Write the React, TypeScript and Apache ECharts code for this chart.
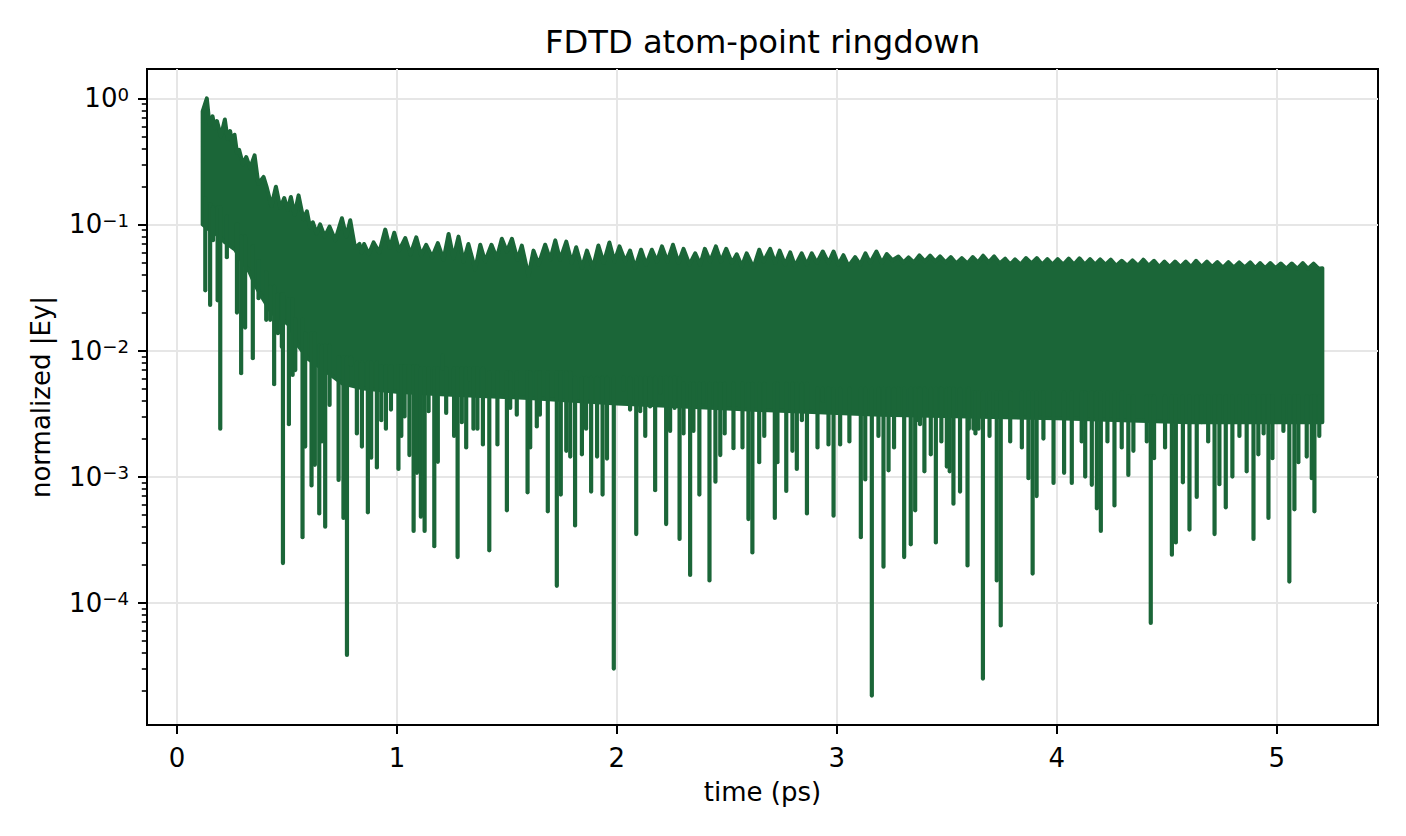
import React, { useEffect, useRef } from "react";
import * as echarts from "echarts";

const TITLE = "FDTD atom-point ringdown";
const X_LABEL = "time (ps)";
const Y_LABEL = "normalized |Ey|";
const X_TICKS = [0, 1, 2, 3, 4, 5];
const Y_TICKS = [1e-4, 1e-3, 1e-2, 1e-1, 1];
const X_RANGE = [-0.136, 5.46];
const Y_RANGE = [1.07e-5, 1.71];
const GREEN = "#1b6638";
const FONT = "DejaVu Sans";

// upper edge of the oscillation (peaks and the notches between them)
const envelopeTop: [number, number][] = [
  [0.117, 0.79], [0.136, 1.0], [0.148, 0.62], [0.162, 0.72], [0.172, 0.58], [0.182, 0.66],
  [0.2, 0.5], [0.218, 0.68], [0.23, 0.48], [0.242, 0.55], [0.252, 0.44], [0.262, 0.515],
  [0.273, 0.37], [0.283, 0.39], [0.3, 0.3], [0.315, 0.343], [0.333, 0.28], [0.353, 0.353],
  [0.37, 0.21], [0.394, 0.238], [0.409, 0.195], [0.43, 0.14], [0.45, 0.199], [0.47, 0.135],
  [0.488, 0.162], [0.503, 0.13], [0.518, 0.165], [0.535, 0.12], [0.553, 0.17], [0.575, 0.11],
  [0.591, 0.127], [0.605, 0.095], [0.618, 0.104], [0.635, 0.085], [0.651, 0.1], [0.672, 0.08],
  [0.694, 0.096], [0.72, 0.075], [0.75, 0.112], [0.77, 0.08], [0.788, 0.108], [0.81, 0.065],
  [0.83, 0.07], [0.84, 0.06], [0.851, 0.07], [0.872, 0.058], [0.894, 0.072], [0.92, 0.06],
  [0.947, 0.091], [0.968, 0.065], [0.988, 0.086], [1.01, 0.062], [1.038, 0.078], [1.062, 0.058],
  [1.088, 0.079], [1.11, 0.057], [1.133, 0.069], [1.16, 0.055], [1.186, 0.071], [1.212, 0.0525],
  [1.235, 0.084], [1.257, 0.054], [1.28, 0.08], [1.303, 0.0508], [1.325, 0.07], [1.356, 0.044],
  [1.379, 0.069], [1.401, 0.0508], [1.43, 0.069], [1.454, 0.054], [1.477, 0.077], [1.5, 0.061],
  [1.523, 0.077], [1.548, 0.0525], [1.568, 0.068], [1.598, 0.039], [1.621, 0.062], [1.644, 0.048],
  [1.674, 0.069], [1.697, 0.0525], [1.72, 0.0747], [1.742, 0.0525], [1.77, 0.073], [1.795, 0.0495],
  [1.815, 0.066], [1.841, 0.0452], [1.864, 0.062], [1.891, 0.0452], [1.916, 0.068], [1.94, 0.0495],
  [1.966, 0.072], [1.989, 0.0508], [2.012, 0.067], [2.038, 0.0508], [2.06, 0.062], [2.083, 0.0452],
  [2.11, 0.063], [2.133, 0.048], [2.159, 0.063], [2.182, 0.0508], [2.205, 0.067], [2.23, 0.0508],
  [2.255, 0.069], [2.28, 0.0495], [2.303, 0.064], [2.33, 0.048], [2.356, 0.059], [2.379, 0.048],
  [2.4, 0.064], [2.424, 0.0508], [2.45, 0.067], [2.473, 0.0508], [2.497, 0.064], [2.523, 0.0495],
  [2.545, 0.058], [2.568, 0.0466], [2.59, 0.059], [2.621, 0.0452], [2.647, 0.063], [2.667, 0.0508],
  [2.697, 0.064], [2.72, 0.0495], [2.74, 0.062], [2.765, 0.048], [2.788, 0.06], [2.81, 0.0466],
  [2.84, 0.059], [2.863, 0.048], [2.886, 0.059], [2.909, 0.0495], [2.936, 0.061], [2.962, 0.0495],
  [2.985, 0.061], [3.007, 0.048], [3.03, 0.057], [3.053, 0.0466], [3.083, 0.055], [3.106, 0.048],
  [3.13, 0.059], [3.151, 0.0495], [3.18, 0.061], [3.204, 0.0495], [3.227, 0.0582], [3.253, 0.052],
  [3.28, 0.0557], [3.303, 0.05], [3.326, 0.0547], [3.35, 0.05], [3.375, 0.0568], [3.4, 0.051],
  [3.424, 0.0565], [3.447, 0.051], [3.469, 0.0557], [3.494, 0.05], [3.518, 0.0551], [3.543, 0.049],
  [3.568, 0.0541], [3.593, 0.049], [3.618, 0.0551], [3.641, 0.05], [3.665, 0.0565], [3.69, 0.05],
  [3.715, 0.0557], [3.74, 0.049], [3.765, 0.0535], [3.788, 0.048], [3.81, 0.0528], [3.835, 0.048],
  [3.86, 0.0541], [3.885, 0.049], [3.909, 0.0541], [3.933, 0.048], [3.957, 0.0531], [3.98, 0.048],
  [4.004, 0.0531], [4.029, 0.048], [4.054, 0.0535], [4.078, 0.048], [4.103, 0.0538], [4.127, 0.048],
  [4.151, 0.0531], [4.174, 0.048], [4.197, 0.0528], [4.221, 0.048], [4.245, 0.0525], [4.27, 0.047],
  [4.295, 0.0515], [4.32, 0.047], [4.344, 0.0518], [4.369, 0.047], [4.393, 0.0525], [4.418, 0.047],
  [4.442, 0.0515], [4.466, 0.046], [4.489, 0.0508], [4.513, 0.046], [4.537, 0.0508], [4.562, 0.046],
  [4.586, 0.0508], [4.61, 0.046], [4.633, 0.0515], [4.658, 0.046], [4.682, 0.0508], [4.706, 0.046],
  [4.73, 0.0503], [4.755, 0.0455], [4.78, 0.0503], [4.805, 0.0455], [4.829, 0.05], [4.854, 0.0455],
  [4.879, 0.05], [4.902, 0.045], [4.924, 0.0494], [4.947, 0.045], [4.97, 0.0494], [4.994, 0.045],
  [5.018, 0.049], [5.043, 0.0445], [5.068, 0.049], [5.093, 0.0445], [5.118, 0.0494], [5.142, 0.0445],
  [5.167, 0.0488], [5.19, 0.0445], [5.207, 0.045],
];

// lower edge of the solidly filled part of the trace
const envelopeBottom: [number, number][] = [
  [0.117, 0.1], [0.15, 0.09], [0.175, 0.085], [0.22, 0.072], [0.265, 0.063], [0.3, 0.05],
  [0.33, 0.042], [0.36, 0.032], [0.39, 0.026], [0.43, 0.02], [0.48, 0.0175], [0.51, 0.016],
  [0.55, 0.011], [0.6, 0.0085], [0.68, 0.0068], [0.75, 0.0055], [0.85, 0.005], [1.0, 0.0047],
  [1.2, 0.0045], [1.6, 0.0042], [2.0, 0.0038], [2.6, 0.0034], [3.2, 0.0031], [4.0, 0.0029],
  [4.6, 0.0027], [5.207, 0.0027],
];

// downward spikes (time, minimum value)
const dips: [number, number][] = [
  [0.129, 0.03], [0.151, 0.023], [0.164, 0.075], [0.185, 0.025], [0.197, 0.0024], [0.227, 0.055],
  [0.273, 0.02], [0.292, 0.0066], [0.31, 0.0152], [0.345, 0.0087], [0.371, 0.026], [0.406, 0.0175],
  [0.424, 0.0175], [0.442, 0.0054], [0.459, 0.0137], [0.477, 0.0107], [0.482, 0.000206], [0.509, 0.0026],
  [0.526, 0.0064], [0.538, 0.007], [0.571, 0.00033], [0.583, 0.00173], [0.612, 0.00085], [0.627, 0.00124],
  [0.647, 0.00051], [0.659, 0.0019], [0.674, 0.0004], [0.694, 0.0037], [0.735, 0.00094], [0.757, 0.00047],
  [0.773, 0.0000385], [0.791, 0.0077], [0.818, 0.0022], [0.841, 0.00173], [0.868, 0.00052], [0.883, 0.00141],
  [0.909, 0.00118], [0.929, 0.0028], [0.95, 0.0024], [0.973, 0.0034], [1.007, 0.00115], [1.02, 0.0021],
  [1.035, 0.003], [1.057, 0.00148], [1.076, 0.00037], [1.091, 0.00107], [1.109, 0.00048], [1.126, 0.00037],
  [1.144, 0.0033], [1.17, 0.00028], [1.186, 0.00131], [1.209, 0.0092], [1.224, 0.0032], [1.26, 0.0021],
  [1.276, 0.00023], [1.295, 0.0027], [1.315, 0.0017], [1.33, 0.0059], [1.348, 0.0024], [1.366, 0.0024],
  [1.391, 0.0018], [1.42, 0.00026], [1.457, 0.0018], [1.5, 0.00054], [1.515, 0.0035], [1.545, 0.0031],
  [1.594, 0.00075], [1.606, 0.0017], [1.636, 0.0025], [1.65, 0.0031], [1.686, 0.00053], [1.727, 0.000136],
  [1.745, 0.00072], [1.77, 0.0016], [1.788, 0.00144], [1.81, 0.00041], [1.841, 0.0015], [1.86, 0.0024],
  [1.883, 0.00076], [1.91, 0.00144], [1.935, 0.00072], [1.955, 0.00139], [1.986, 0.00003], [2.03, 0.0049],
  [2.06, 0.0034], [2.088, 0.00035], [2.106, 0.0033], [2.129, 0.0021], [2.151, 0.0036], [2.174, 0.00078],
  [2.197, 0.0046], [2.224, 0.00042], [2.242, 0.0023], [2.262, 0.0035], [2.285, 0.00032], [2.303, 0.0022],
  [2.333, 0.000166], [2.348, 0.0023], [2.375, 0.00072], [2.394, 0.0039], [2.421, 0.00015], [2.448, 0.00091],
  [2.47, 0.00148], [2.49, 0.0022], [2.53, 0.00168], [2.571, 0.0017], [2.598, 0.00046], [2.616, 0.00025],
  [2.647, 0.0013], [2.67, 0.0021], [2.718, 0.00047], [2.73, 0.0013], [2.77, 0.00077], [2.798, 0.0016],
  [2.818, 0.00115], [2.841, 0.0028], [2.864, 0.00051], [2.912, 0.0017], [2.936, 0.004], [2.962, 0.0018],
  [2.985, 0.00049], [3.015, 0.0018], [3.057, 0.0019], [3.109, 0.00033], [3.129, 0.00095], [3.159, 0.0000183],
  [3.189, 0.0021], [3.212, 0.000193], [3.235, 0.00112], [3.26, 0.0017], [3.28, 0.0034], [3.306, 0.00023],
  [3.336, 0.00029], [3.356, 0.00054], [3.37, 0.0028], [3.378, 0.0026], [3.398, 0.0011], [3.427, 0.0015],
  [3.45, 0.0003], [3.47, 0.0035], [3.475, 0.0019], [3.5, 0.0012], [3.513, 0.0011], [3.53, 0.00061],
  [3.56, 0.00076], [3.594, 0.000197], [3.6, 0.0024], [3.621, 0.0024], [3.63, 0.0022], [3.644, 0.0024],
  [3.664, 0.000025], [3.694, 0.0021], [3.727, 0.00015], [3.745, 0.000066], [3.788, 0.0019], [3.841, 0.0017],
  [3.871, 0.00097], [3.89, 0.00017], [3.908, 0.0007], [3.939, 0.002], [3.985, 0.00089], [4.033, 0.00107],
  [4.068, 0.00089], [4.113, 0.0019], [4.129, 0.001], [4.159, 0.00086], [4.182, 0.00056], [4.2, 0.00037],
  [4.23, 0.0019], [4.262, 0.00059], [4.295, 0.0017], [4.325, 0.00103], [4.348, 0.0016], [4.409, 0.0019],
  [4.427, 0.000069], [4.442, 0.0014], [4.492, 0.0017], [4.523, 0.00024], [4.541, 0.0003], [4.573, 0.0009],
  [4.603, 0.00038], [4.636, 0.00069], [4.659, 0.0027], [4.688, 0.0019], [4.717, 0.00035], [4.739, 0.00087],
  [4.768, 0.00057], [4.798, 0.001], [4.83, 0.0021], [4.863, 0.0011], [4.894, 0.00032], [4.916, 0.0015],
  [4.94, 0.0022], [4.962, 0.00047], [4.98, 0.0014], [5.03, 0.0023], [5.057, 0.000147], [5.08, 0.00055],
  [5.098, 0.0013], [5.136, 0.00144], [5.159, 0.00097], [5.171, 0.00053], [5.193, 0.0021],
];

const Y_MINOR: number[] = [];
for (let e = -5; e <= 0; e++) {
  for (let m = 2; m <= 9; m++) {
    const v = m * Math.pow(10, e);
    if (v >= Y_RANGE[0] && v <= Y_RANGE[1]) Y_MINOR.push(v);
  }
}

const powLabel = (v: number) => {
  const e = Math.round(Math.log10(v));
  const s = e < 0 ? "\u2212" + String(-e) : String(e);
  return "{b|10}{e|" + s + "}";
};

const nearestBottom = (t: number) => {
  let best = envelopeBottom[0];
  for (const p of envelopeBottom) if (Math.abs(p[0] - t) < Math.abs(best[0] - t)) best = p;
  return best[1];
};

export default function App() {
  const ref = useRef<HTMLDivElement>(null);
  useEffect(() => {
    if (!ref.current) return;
    const chart = echarts.init(ref.current, null, { renderer: "svg", width: 1406, height: 836 });
    const tickStyle = { color: "#000", width: 2 };
    chart.setOption({
      animation: false,
      backgroundColor: "#fff",
      textStyle: { fontFamily: FONT },
      title: {
        text: TITLE,
        left: 762.5,
        textAlign: "center",
        top: 26,
        padding: 0,
        textStyle: { fontFamily: FONT, fontSize: 32.2, fontWeight: "normal", color: "#000" },
      },
      grid: {
        left: 147, top: 69, right: 28, bottom: 111,
        show: true, borderColor: "#000", borderWidth: 2, backgroundColor: "transparent",
        containLabel: false, outerBoundsMode: "none",
      },
      xAxis: {
        type: "value",
        min: X_RANGE[0],
        max: X_RANGE[1],
        name: X_LABEL,
        nameLocation: "middle",
        nameGap: 54,
        nameMoveOverlap: false,
        nameTextStyle: { fontFamily: FONT, fontSize: 26, color: "#000" },
        axisLine: { show: true, onZero: false, lineStyle: { color: "#000", width: 2 } },
        axisTick: { show: true, length: 9, lineStyle: tickStyle, customValues: X_TICKS },
        axisLabel: {
          show: true, margin: 20, fontFamily: FONT, fontSize: 26, color: "#000",
          customValues: X_TICKS, formatter: (v: number) => String(Math.round(v)),
        },
        splitLine: { show: true, lineStyle: { color: "#e6e6e6", width: 2 } },
      },
      yAxis: [
        {
          type: "log",
          logBase: 10,
          min: Y_RANGE[0],
          max: Y_RANGE[1],
          position: "left",
          name: Y_LABEL,
          nameLocation: "middle",
          nameGap: 93,
          nameRotate: 90,
          nameMoveOverlap: false,
          nameTextStyle: { fontFamily: FONT, fontSize: 26, color: "#000" },
          axisLine: { show: true, onZero: false, lineStyle: { color: "#000", width: 2 } },
          axisTick: { show: true, length: 9, lineStyle: tickStyle, customValues: Y_TICKS },
          axisLabel: {
            show: true, margin: 18, customValues: Y_TICKS, formatter: powLabel,
            rich: {
              b: { fontFamily: FONT, fontSize: 26, color: "#000", lineHeight: 26 },
              e: { fontFamily: FONT, fontSize: 18.2, color: "#000", lineHeight: 13, verticalAlign: "top" },
            },
          },
          splitLine: { show: true, lineStyle: { color: "#e6e6e6", width: 2 } },
        },
        {
          type: "log",
          logBase: 10,
          min: Y_RANGE[0],
          max: Y_RANGE[1],
          position: "left",
          axisLine: { show: false, onZero: false },
          axisLabel: { show: false },
          splitLine: { show: false },
          axisTick: { show: true, length: 5.2, lineStyle: { color: "#000", width: 1.6 }, customValues: Y_MINOR },
        },
      ],
      series: [
        {
          type: "custom",
          name: "band",
          coordinateSystem: "cartesian2d",
          xAxisIndex: 0,
          yAxisIndex: 0,
          silent: true,
          z: 3,
          data: [envelopeTop[0]],
          encode: { x: 0, y: 1 },
          renderItem: (params: any, api: any) => {
            const pts: number[][] = [];
            for (const p of envelopeTop) pts.push(api.coord(p));
            for (let i = envelopeBottom.length - 1; i >= 0; i--) pts.push(api.coord(envelopeBottom[i]));
            return {
              type: "polygon",
              shape: { points: pts },
              style: { fill: GREEN, stroke: GREEN, lineWidth: 4, lineJoin: "round" },
            };
          },
        },
        {
          type: "custom",
          name: "dips",
          coordinateSystem: "cartesian2d",
          xAxisIndex: 0,
          yAxisIndex: 0,
          silent: true,
          z: 3,
          data: dips,
          encode: { x: 0, y: 1 },
          renderItem: (params: any, api: any) => {
            const t = api.value(0);
            const v = api.value(1);
            const start = nearestBottom(t) * 1.6;
            const p1 = api.coord([t, start]);
            const p2 = api.coord([t, v]);
            return {
              type: "line",
              shape: { x1: p1[0], y1: p1[1], x2: p2[0], y2: p2[1] },
              style: { stroke: GREEN, lineWidth: 4.2, lineCap: "round" },
            };
          },
        },
      ],
    });
    return () => chart.dispose();
  }, []);
  return (
    <div
      ref={ref}
      style={{ position: "fixed", left: 0, top: 0, width: 1406, height: 836, background: "#fff" }}
    />
  );
}
